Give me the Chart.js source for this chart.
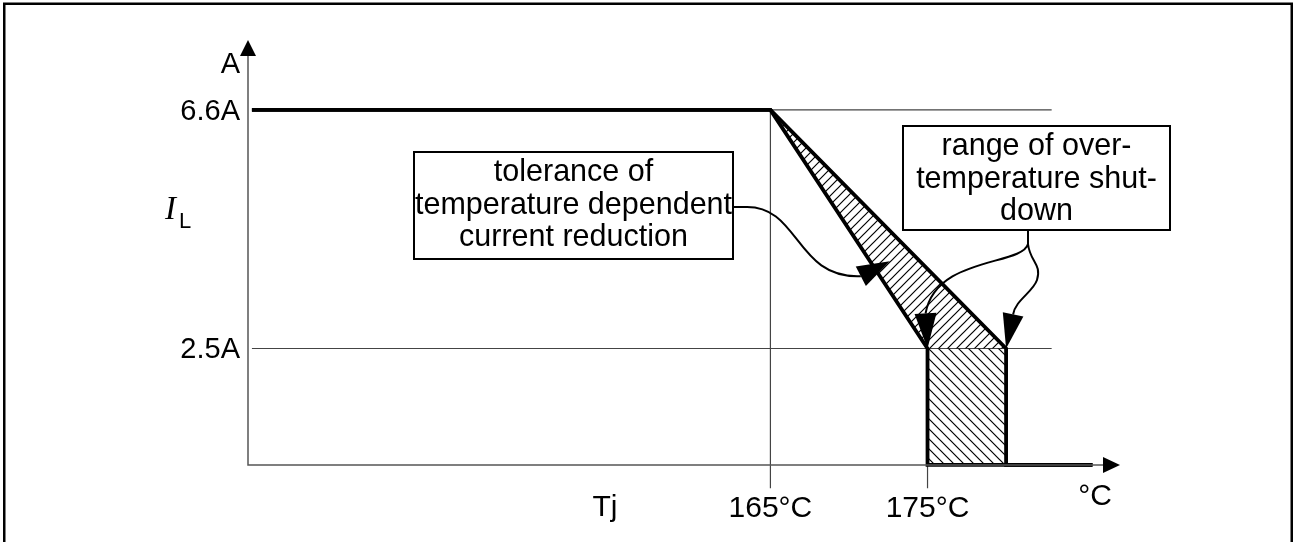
<!DOCTYPE html>
<html>
<head>
<meta charset="utf-8">
<script src="https://cdn.jsdelivr.net/npm/chart.js@4.4.1/dist/chart.umd.min.js"></script>
<style>
  html, body { margin: 0; padding: 0; background: #fff; }
  #wrap { width: 1295px; height: 542px; position: relative; }
</style>
</head>
<body>
<div id="wrap"><canvas id="derating"></canvas></div>
<script>
// junction temperature ticks (°C) and load current ticks (A)
const tempTicks = [165, 175];
const tempTickLabels = ['165°C', '175°C'];
const tempRefTop = [6.6, 2.5];
const currentTicks = [6.6, 2.5];
const currentTickLabels = ['6.6A', '2.5A'];

// earliest and latest derating curve (tolerance limits)
const earlyTemp = [132, 165, 175, 175, 185.5];
const earlyCurrent = [6.6, 6.6, 2.5, 0.5, 0.5];
const lateTemp = [132, 165, 180, 180, 185.5];
const lateCurrent = [6.6, 6.6, 2.5, 0.5, 0.5];

// hatched areas
const reductionTemp = [165, 175, 180];
const reductionCurrent = [6.6, 2.5, 2.5];
const shutdownTemp = [175, 180, 180, 175];
const shutdownCurrent = [2.5, 2.5, 0.5, 0.5];

// where the axes cross and where the thin guide lines stop
const axisTemp = 131.75;
const axisCurrent = 0.5;
const gridStartTemp = 132;
const gridEndTemp = 182.9;
const tickEndCurrent = 0.1;

const FONT = '"Liberation Sans", Arial, sans-serif';

function pts(xs, ys) {
    return xs.map((x, i) => ({ x: x, y: ys[i] }));
}

const canvas = document.getElementById('derating');
const mainCtx = canvas.getContext('2d');

function hatch(dir, size) {
    const c = document.createElement('canvas');
    c.width = size; c.height = size;
    const g = c.getContext('2d');
    g.strokeStyle = '#000';
    g.lineWidth = 1.2;
    g.beginPath();
    if (dir === '/') {
        g.moveTo(-1, size + 1); g.lineTo(size + 1, -1);
        g.moveTo(-1, 1); g.lineTo(1, -1);
        g.moveTo(size - 1, size + 1); g.lineTo(size + 1, size - 1);
    } else {
        g.moveTo(-1, -1); g.lineTo(size + 1, size + 1);
        g.moveTo(size - 1, -1); g.lineTo(size + 1, 1);
        g.moveTo(-1, size - 1); g.lineTo(1, size + 1);
    }
    g.stroke();
    return mainCtx.createPattern(c, 'repeat');
}

function arrowHead(ctx, tx, ty, bx, by, half) {
    const dx = tx - bx, dy = ty - by;
    const len = Math.hypot(dx, dy);
    const nx = -dy / len * half, ny = dx / len * half;
    ctx.beginPath();
    ctx.moveTo(tx, ty);
    ctx.lineTo(bx + nx, by + ny);
    ctx.lineTo(bx - nx, by - ny);
    ctx.closePath();
    ctx.fill();
}

const thin = { borderColor: '#444', borderWidth: 1.2, pointRadius: 0, showLine: true, fill: false, order: 3 };
const thick = { borderColor: '#000', borderWidth: 3.8, pointRadius: 0, showLine: true, fill: false,
                borderJoinStyle: 'miter', borderCapStyle: 'butt', order: 1 };

const datasets = [];
currentTicks.forEach(v => {
    datasets.push(Object.assign({ data: pts([gridStartTemp, gridEndTemp], [v, v]) }, thin));
});
tempTicks.forEach((t, i) => {
    datasets.push(Object.assign({ data: pts([t, t], [tempRefTop[i], tickEndCurrent]) }, thin));
});
datasets.push({
    data: pts(reductionTemp, reductionCurrent),
    showLine: true, borderWidth: 0, pointRadius: 0,
    backgroundColor: hatch('/', 9), fill: 'shape', order: 2
});
datasets.push({
    data: pts(shutdownTemp, shutdownCurrent),
    showLine: true, borderWidth: 0, pointRadius: 0,
    backgroundColor: hatch('\\', 10), fill: 'shape', order: 2
});
datasets.push(Object.assign({ data: pts(earlyTemp, earlyCurrent) }, thick));
datasets.push(Object.assign({ data: pts(lateTemp, lateCurrent) }, thick));

const sketch = {
    id: 'sketch',
    beforeDraw(chart) {
        const ctx = chart.ctx;
        ctx.save();
        ctx.fillStyle = '#fff';
        ctx.fillRect(0, 0, chart.width, chart.height);
        ctx.restore();
    },
    afterDatasetsDraw(chart) {
        const ctx = chart.ctx;
        const xs = chart.scales.x, ys = chart.scales.y;
        const px = v => xs.getPixelForValue(v);
        const py = v => ys.getPixelForValue(v);
        const x0 = px(axisTemp), y0 = py(axisCurrent);
        const yTop = py(ys.max), xEnd = px(xs.max);

        ctx.save();
        // axes with arrows
        ctx.strokeStyle = '#555';
        ctx.fillStyle = '#000';
        ctx.lineWidth = 1.5;
        ctx.beginPath();
        ctx.moveTo(x0, yTop + 12);
        ctx.lineTo(x0, y0);
        ctx.lineTo(xEnd - 12, y0);
        ctx.stroke();
        arrowHead(ctx, x0, yTop, x0, yTop + 16, 8);
        arrowHead(ctx, xEnd, y0, xEnd - 17, y0, 8);

        // tick labels
        ctx.font = '29px ' + FONT;
        ctx.textAlign = 'right';
        ctx.textBaseline = 'alphabetic';
        ctx.fillText('A', x0 - 8, yTop + 33);
        currentTicks.forEach((v, i) => ctx.fillText(currentTickLabels[i], x0 - 8, py(v) + 10));

        ctx.font = '30px ' + FONT;
        ctx.textAlign = 'center';
        tempTicks.forEach((t, i) => ctx.fillText(tempTickLabels[i], px(t), 517));
        ctx.fillText('Tj', 605, 516);
        ctx.textAlign = 'right';
        ctx.fillText('°C', 1112, 505);

        // I_L
        ctx.textAlign = 'left';
        ctx.font = 'italic 33px "Liberation Serif", "Times New Roman", serif';
        ctx.fillText('I', 165, 219);
        ctx.font = '22px ' + FONT;
        ctx.fillText('L', 179, 228);

        // callout boxes
        ctx.lineWidth = 2;
        ctx.strokeStyle = '#000';
        ctx.font = '30.5px ' + FONT;
        ctx.textAlign = 'center';
        const boxes = [
            { x: 414, y: 152, w: 319, h: 107, lines: ['tolerance of', 'temperature dependent', 'current reduction'], base: 181 },
            { x: 903, y: 126, w: 267, h: 104, lines: ['range of over-', 'temperature shut-', 'down'], base: 155 }
        ];
        boxes.forEach(b => {
            ctx.fillStyle = '#fff';
            ctx.fillRect(b.x, b.y, b.w, b.h);
            ctx.strokeRect(b.x, b.y, b.w, b.h);
            ctx.fillStyle = '#000';
            b.lines.forEach((s, i) => ctx.fillText(s, b.x + b.w / 2, b.base + i * 32.5));
        });

        // connector: tolerance box -> reduction band
        const t1x = px(172.6), t1y = py(4.0);
        const b1x = t1x - 29, b1y = t1y + 15;
        ctx.beginPath();
        ctx.moveTo(733, 207);
        ctx.lineTo(745, 207);
        ctx.bezierCurveTo(800, 205, 795, b1y + 3, b1x, b1y);
        ctx.stroke();
        arrowHead(ctx, t1x, t1y, b1x, b1y, 11);

        // connectors: shutdown box -> both shutdown points
        const t2x = px(175), t2y = py(2.5);
        const b2x = t2x - 2, b2y = t2y - 35;
        const t3x = px(180), t3y = py(2.5);
        const b3x = t3x + 7, b3y = t3y - 34;
        ctx.beginPath();
        ctx.moveTo(1028, 230);
        ctx.lineTo(1028, 244);
        ctx.bezierCurveTo(1022, 266, 936, 256, b2x, b2y);
        ctx.moveTo(1028, 244);
        ctx.bezierCurveTo(1030, 262, 1042, 264, 1037, 280);
        ctx.bezierCurveTo(1033, 292, b3x + 2, b3y - 14, b3x, b3y);
        ctx.stroke();
        arrowHead(ctx, t2x, t2y, b2x, b2y, 11);
        arrowHead(ctx, t3x, t3y, b3x, b3y, 10.5);

        // outer frame
        ctx.lineWidth = 2.5;
        ctx.strokeRect(4.25, 3.75, 1287.5, 560);
        ctx.restore();
    }
};

new Chart(canvas, {
    type: 'scatter',
    data: { datasets: datasets },
    options: {
        responsive: true,
        maintainAspectRatio: false,
        animation: false,
        events: [],
        layout: { padding: { left: 248, right: 175, top: 40, bottom: 48 } },
        plugins: { legend: { display: false }, tooltip: { enabled: false } },
        scales: {
            x: { type: 'linear', display: false, min: axisTemp, max: 187.25 },
            y: { type: 'linear', display: false, min: 0, max: 7.8 }
        }
    },
    plugins: [sketch]
});
</script>
</body>
</html>
